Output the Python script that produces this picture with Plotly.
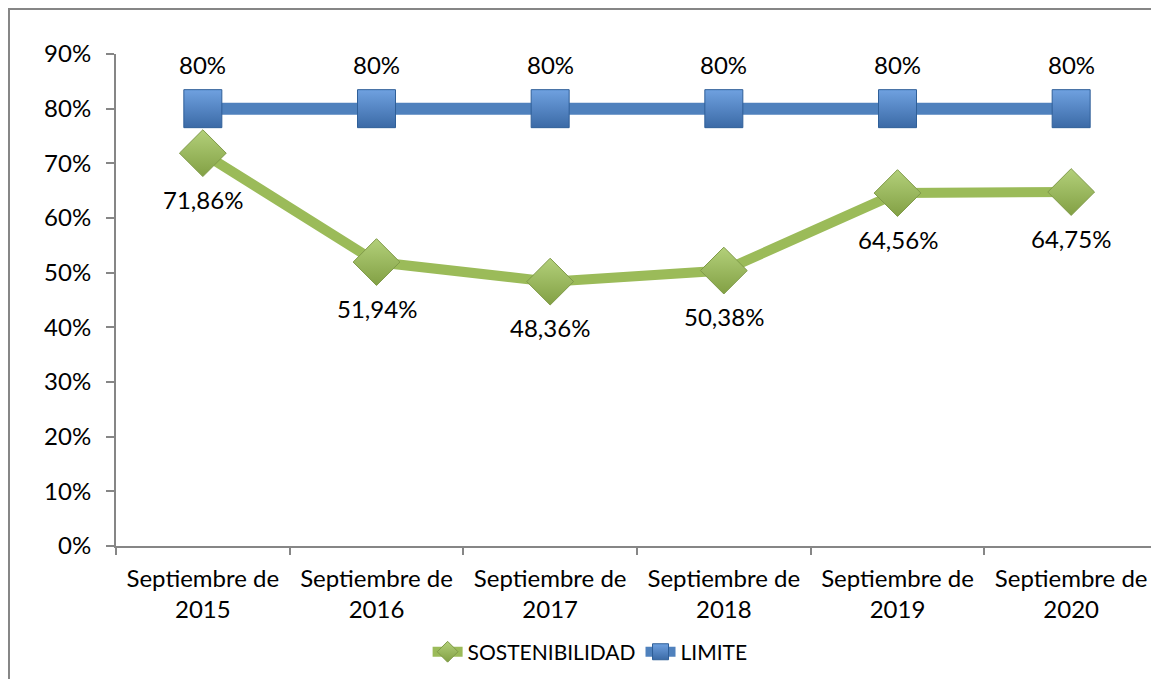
import plotly.graph_objects as go

categories = ["Septiembre de<br>2015", "Septiembre de<br>2016", "Septiembre de<br>2017",
              "Septiembre de<br>2018", "Septiembre de<br>2019", "Septiembre de<br>2020"]
sostenibilidad = [0.7186, 0.5194, 0.4836, 0.5038, 0.6456, 0.6475]
sost_labels = ["71,86%", "51,94%", "48,36%", "50,38%", "64,56%", "64,75%"]
limite = [0.80, 0.80, 0.80, 0.80, 0.80, 0.80]
lim_labels = ["80%"] * 6
y_ticks = [0, 0.1, 0.2, 0.3, 0.4, 0.5, 0.6, 0.7, 0.8, 0.9]

FONT = "Lato"
green = "#9BBB59"
blue = "#4F81BD"

fig = go.Figure()
fig.add_trace(go.Scatter(
    x=categories, y=sostenibilidad, name="SOSTENIBILIDAD", mode="lines+markers",
    line=dict(color=green, width=10),
    marker=dict(symbol="diamond", size=36, color="#B3D07A",
                gradient=dict(type="vertical", color="#82A044"),
                line=dict(color="#7F9A48", width=1)),
))
fig.add_trace(go.Scatter(
    x=categories, y=limite, name="LIMITE", mode="lines+markers",
    line=dict(color=blue, width=12),
    marker=dict(symbol="square", size=38, color="#6FA1E0",
                gradient=dict(type="vertical", color="#3B6AA6"),
                line=dict(color="#2F5F98", width=1)),
))

annotations = []
for c, v, t in zip(categories, sostenibilidad, sost_labels):
    annotations.append(dict(x=c, y=v, text=t, showarrow=False, yshift=-46,
                            font=dict(family=FONT, size=24, color="#000000")))
for c, v, t in zip(categories, limite, lim_labels):
    annotations.append(dict(x=c, y=v, text=t, showarrow=False, yshift=44,
                            font=dict(family=FONT, size=24, color="#000000")))

fig.update_layout(
    width=1151, height=671,
    margin=dict(l=108, r=1, t=46, b=133),
    paper_bgcolor="white", plot_bgcolor="white",
    font=dict(family=FONT, size=24, color="#000000"),
    showlegend=True,
    annotations=annotations,
    legend=dict(orientation="h", x=0.455, xanchor="center", y=-0.174, yanchor="top",
                font=dict(family=FONT, size=21)),
    xaxis=dict(
        type="category", range=[-0.5, 5.5], showgrid=False, showline=True,
        linecolor="#868686", linewidth=2, ticks="outside", ticklen=7, tickcolor="#868686",
        tickwidth=2, tickson="boundaries", tickfont=dict(family=FONT, size=24),
        ticklabelstandoff=10,
    ),
    yaxis=dict(
        range=[0, 0.9], tickvals=y_ticks, tickformat=".0%", showgrid=False, showline=True,
        linecolor="#868686", linewidth=2, ticks="outside", ticklen=8, tickcolor="#868686",
        tickwidth=2, tickfont=dict(family=FONT, size=24), zeroline=False,
        ticklabelstandoff=10,
    ),
    shapes=[dict(type="rect", xref="paper", yref="paper",
                 x0=-0.1027, x1=1.2, y0=-0.5, y1=1.0915,
                 line=dict(color="#868686", width=2), fillcolor="rgba(0,0,0,0)", layer="below")],
)

fig.write_html("out.html")
